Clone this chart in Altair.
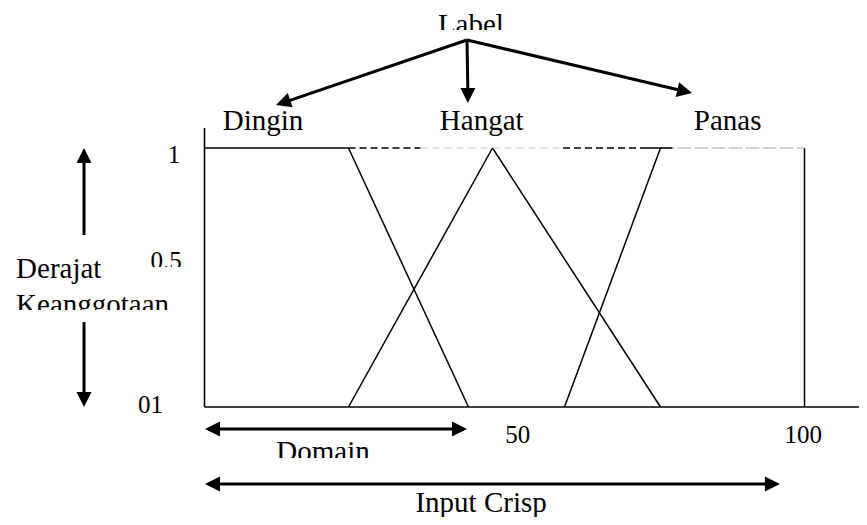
import altair as alt
import pandas as pd

# ---- membership functions (x = input crisp 0..100, y = degree 0..1) ----
dingin_x = [0, 24, 44]
dingin_y = [1, 1, 0]
hangat_x = [24, 48, 76]
hangat_y = [0, 1, 0]
panas_x = [60, 76, 100, 100]
panas_y = [0, 1, 1, 0]

set_names = ["Dingin", "Hangat", "Panas"]
x_tick_labels = ["50", "100"]
y_tick_labels = ["01", "0.5", "1"]
other_labels = ["Label", "Derajat", "Keanggotaan", "Domain", "Input Crisp"]

FONT = "Liberation Serif"

# ---- scales shared by every layer ----
XS = alt.Scale(domain=[0, 100], nice=False, zero=False)
YS = alt.Scale(domain=[0, 1], nice=False, zero=False)


def X(f="x"):
    return alt.X(f"{f}:Q", scale=XS, axis=None)


def Y(f="y"):
    return alt.Y(f"{f}:Q", scale=YS, axis=None)


# ---- membership segments ----
seg_rows = []
for name, xs, ys in [("Dingin", dingin_x, dingin_y),
                     ("Hangat", hangat_x, hangat_y),
                     ("Panas", panas_x, panas_y)]:
    for i in range(len(xs) - 1):
        style = "gray" if (name == "Panas" and i == 1) else "black"
        seg_rows.append(dict(x=xs[i], y=ys[i], x2=xs[i + 1], y2=ys[i + 1], style=style))
seg = pd.DataFrame(seg_rows)

# guide segments along degree = 1
guides = pd.DataFrame([
    dict(x=24, x2=36, y=1, kind="dash"),
    dict(x=36, x2=59.75, y=1, kind="light"),
    dict(x=59.75, x2=73.75, y=1, kind="dash"),
    dict(x=73.75, x2=78, y=1, kind="solid"),
])

# axes lines
axes_df = pd.DataFrame([
    dict(x=0, y=0, x2=0, y2=1.077),
    dict(x=0, y=0, x2=110, y2=0),
])

# ---- text annotations ----
big_center = pd.DataFrame(dict(
    text=["Label"] + set_names + ["Domain", "Input Crisp"],
    x=[44.4, 9.75, 46.2, 87.2, 19.75, 46.1],
    y=[1.440, 1.0695, 1.0695, 1.0695, -0.2085, -0.4054],
))
big_left = pd.DataFrame(dict(
    text=["Derajat", "Keanggotaan"],
    x=[-31.4, -31.4],
    y=[0.498, 0.359],
))
ticks_df = pd.DataFrame(dict(
    text=y_tick_labels + x_tick_labels,
    x=[-9.0, -6.4, -5.08, 52.2, 99.8],
    y=[-0.023, 0.533, 0.942, -0.139, -0.139],
))

# white masks that trim the bottoms of some labels (as in the original)
masks = pd.DataFrame([
    dict(x=37.5, x2=52.5, y=1.4556, y2=1.413),
    dict(x=-33.0, x2=-4.5, y=0.3745, y2=0.328),
    dict(x=-9.9, x2=-1.2, y=0.5405, y2=0.505),
    dict(x=10.5, x2=29.5, y=-0.197, y2=-0.245),
])

# ---- arrows ----
shafts = pd.DataFrame([
    dict(x=43.75, y=1.417, x2=13.5, y2=1.178),
    dict(x=43.75, y=1.417, x2=43.9, y2=1.2124),
    dict(x=43.75, y=1.417, x2=79.63, y2=1.2212),
    dict(x=-20.08, y=0.664, x2=-20.08, y2=0.954),
    dict(x=-20.08, y=0.328, x2=-20.08, y2=0.0386),
    dict(x=1.75, y=-0.085, x2=42.08, y2=-0.085),
    dict(x=1.75, y=-0.297, x2=94.25, y2=-0.297),
])
heads = pd.DataFrame([
    dict(x=11.92, y=1.166, angle=251.2),
    dict(x=43.9, y=1.174, angle=180),
    dict(x=81.25, y=1.212, angle=103.3),
    dict(x=-20.08, y=1.0, angle=0),
    dict(x=-20.08, y=0.0, angle=180),
    dict(x=0.08, y=-0.085, angle=270),
    dict(x=43.75, y=-0.085, angle=90),
    dict(x=0.08, y=-0.297, angle=270),
    dict(x=95.9, y=-0.297, angle=90),
])
ARROW = "M0,0L-0.5,1L0.5,1Z"

# ---- layers ----
t_center = alt.Chart(big_center).mark_text(
    font=FONT, fontSize=29, align="center", baseline="alphabetic", color="black"
).encode(x=X(), y=Y(), text="text:N")

t_left = alt.Chart(big_left).mark_text(
    font=FONT, fontSize=29, align="left", baseline="alphabetic", color="black"
).encode(x=X(), y=Y(), text="text:N")

t_ticks = alt.Chart(ticks_df).mark_text(
    font=FONT, fontSize=25, align="center", baseline="alphabetic", color="black"
).encode(x=X(), y=Y(), text="text:N")

mask_layer = alt.Chart(masks).mark_rect(color="white", opacity=1).encode(
    x=X(), x2="x2:Q", y=Y(), y2="y2:Q"
)

axes_layer = alt.Chart(axes_df).mark_rule(color="black", strokeWidth=1.6).encode(
    x=X(), x2="x2:Q", y=Y(), y2="y2:Q"
)

mf_black = alt.Chart(seg).transform_filter(alt.datum.style == "black").mark_rule(
    color="black", strokeWidth=1.5
).encode(x=X(), x2="x2:Q", y=Y(), y2="y2:Q")

mf_gray = alt.Chart(seg).transform_filter(alt.datum.style == "gray").mark_rule(
    color="#a8a8a8", strokeWidth=1.2, strokeDash=[14, 3]
).encode(x=X(), x2="x2:Q", y=Y(), y2="y2:Q")

g_dash = alt.Chart(guides).transform_filter(alt.datum.kind == "dash").mark_rule(
    color="black", strokeWidth=1.5, strokeDash=[7, 4]
).encode(x=X(), x2="x2:Q", y=Y())

g_light = alt.Chart(guides).transform_filter(alt.datum.kind == "light").mark_rule(
    color="#c4c4c4", strokeWidth=1.2, strokeDash=[7, 5]
).encode(x=X(), x2="x2:Q", y=Y())

g_solid = alt.Chart(guides).transform_filter(alt.datum.kind == "solid").mark_rule(
    color="black", strokeWidth=1.5
).encode(x=X(), x2="x2:Q", y=Y())

shaft_layer = alt.Chart(shafts).mark_rule(color="black", strokeWidth=3).encode(
    x=X(), x2="x2:Q", y=Y(), y2="y2:Q"
)

head_layer = alt.Chart(heads).mark_point(
    shape=ARROW, filled=True, color="black", opacity=1, size=900, strokeWidth=0
).encode(x=X(), y=Y(), angle=alt.Angle("angle:Q", scale=None))

chart = alt.layer(
    t_center, t_left, t_ticks, mask_layer,
    axes_layer, mf_black, mf_gray, g_dash, g_light, g_solid,
    shaft_layer, head_layer,
).properties(
    width=600,
    height=259,
    autosize=alt.AutoSizeParams(type="none"),
    padding={"left": 196.5, "top": 140, "right": 54.5, "bottom": 110},
    background="white",
).configure_view(stroke=None)

chart.save("out.html", embed_options={"renderer": "svg", "actions": False})
